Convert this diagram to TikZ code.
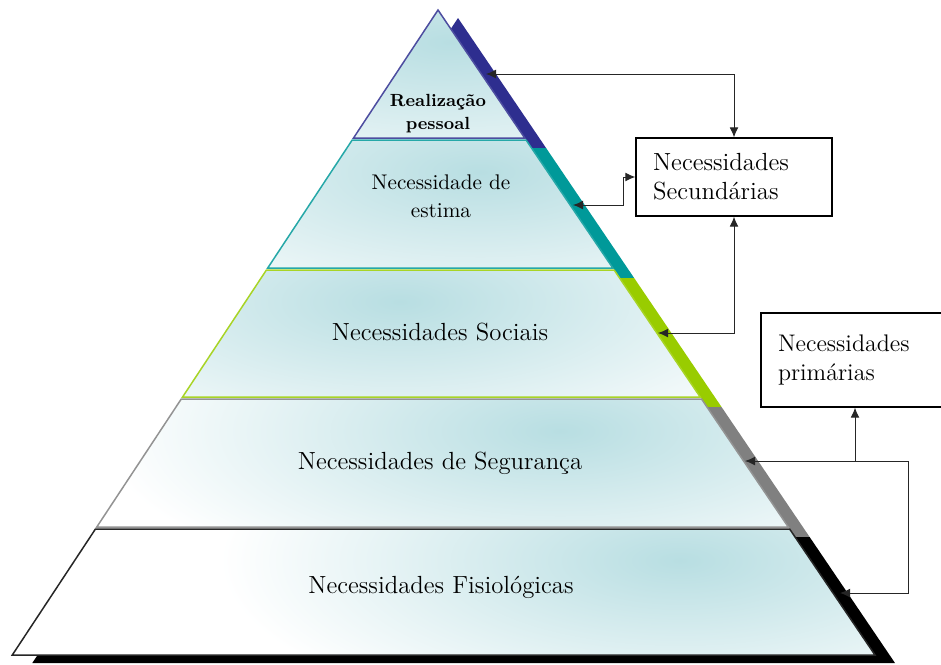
\documentclass[tikz,border=0pt]{standalone}
\usetikzlibrary{arrows.meta, positioning, calc}
\definecolor{lvA}{HTML}{2E2E8F}
\definecolor{lvB}{HTML}{009999}
\definecolor{lvC}{HTML}{99CC00}
\definecolor{lvD}{HTML}{808080}
\definecolor{lvE}{HTML}{000000}
\definecolor{glow}{HTML}{B8DEE2}

\begin{document}
\begin{tikzpicture}[x=0.5pt, y=-0.5pt,
  every node/.style={font=\fontsize{12.4}{14.5}\selectfont},
  box/.style={draw, line width=0.6pt, align=left, inner xsep=8.5pt, inner ysep=0pt},
  conn/.style={line width=0.5pt, black!85},
  >={Latex[length=5pt, width=4.4pt]}
]
\useasboundingbox (0,0) rectangle (941,664);
% pyramid edges: x = 438 -/+ k*(y-10)
\def\kl{0.660} \def\kr{0.6775}
\def\sx{20} \def\sy{8}
% shadow strip
\foreach \t/\b/\c in {10/140/lvA, 140/270/lvB, 270/399/lvC, 399/529/lvD, 529/655/lvE}{
  \fill[\c] ({438-\kl*(\t-10)+\sx},{\t+\sy}) -- ({438+\kr*(\t-10)+\sx},{\t+\sy})
    -- ({438+\kr*(\b-10)+\sx},{\b+\sy}) -- ({438-\kl*(\b-10)+\sx},{\b+\sy}) -- cycle;
}
\fill[white] (438,10) -- ({438+\kr*645},655) -- ({438-\kl*645},655) -- cycle;
% layers
\foreach \t/\b/\c/\g in {10/138/lvA/450, 140/268/lvB/480, 270/397/lvC/400, 399/527/lvD/560, 529/655/lvE/680}{
  \begin{scope}
    \clip ({438-\kl*(\t-10)},\t) -- ({438+\kr*(\t-10)},\t)
      -- ({438+\kr*(\b-10)},\b) -- ({438-\kl*(\b-10)},\b) -- cycle;
    \shade[inner color=glow, outer color=white] (\g,{\t+0.25*(\b-\t)})
      ellipse [x radius=230pt, y radius=85pt];
  \end{scope}
  \draw[\c!85, line width=0.75pt] ({438-\kl*(\t-10)},\t) -- ({438+\kr*(\t-10)},\t)
    -- ({438+\kr*(\b-10)},\b) -- ({438-\kl*(\b-10)},\b) -- cycle;
}
\node[font=\bfseries\fontsize{8.8}{11.5}\selectfont, align=center] (realiz) at (438,114) {Realização\\pessoal};
\node[font=\fontsize{10.6}{14}\selectfont, align=center] (estima) at (441,196) {Necessidade de\\estima};
\node (sociais) at (440,332) {Necessidades Sociais};
\node (seguranca) at (440,463) {Necessidades de Segurança};
\node (fisio) at (441,587) {Necessidades Fisiológicas};

\node[box, text width=81pt, minimum height=39pt] (sec) at (734,177) {Necessidades\\Secundárias};
\node[box, text width=77pt, minimum height=47pt, font=\fontsize{12}{14.5}\selectfont] (prim) at (855,360) {Necessidades\\primárias};

\coordinate (topin) at (486,74);
\coordinate (estin) at (573,205);
\coordinate (socin) at (658,333);
\coordinate (segin) at (745,461);
\coordinate (fisin) at (840,593);
\coordinate (junc) at (855,461);
\coordinate (loop) at (908,461);

\draw[conn, <->] (topin) -| (sec.north);
\draw[conn, <->] (estin) -- ++(50,0) |- (sec.west);
\draw[conn, <->] (socin) -| (sec.south);
\draw[conn, ->] (junc) -- (prim.south);
\draw[conn, <->] (segin) -- (loop) |- (fisin);
\end{tikzpicture}
\end{document}
